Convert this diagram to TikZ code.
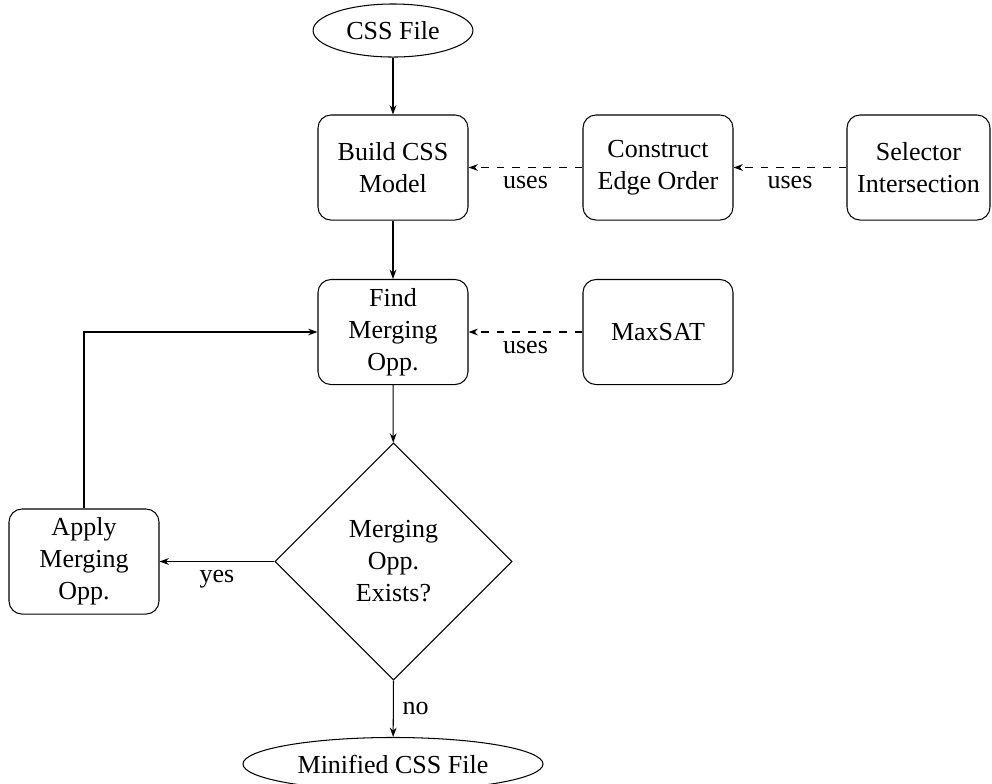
\documentclass[tikz,border=0pt]{standalone}
\usepackage{fontspec}
\setmainfont{Liberation Serif}
\usetikzlibrary{shapes.geometric,arrows.meta}
\begin{document}
\begin{tikzpicture}[x=0.3846pt,y=-0.3846pt,
  font=\fontsize{10}{12.3}\selectfont,
  every node/.style={align=center},
  proc/.style={draw,rounded corners=5pt,minimum width=57.7pt,minimum height=40.4pt,inner sep=2pt},
  term/.style={draw,ellipse,minimum height=20.4pt,inner sep=0pt},
  decide/.style={draw,diamond,minimum width=91.2pt,minimum height=91.2pt,inner sep=0pt},
  flow/.style={-{Stealth[length=3.6pt,width=2.6pt]}},
  usesarrow/.style={dashed,-{Stealth[length=3.6pt,width=2.6pt]}},
  lbl/.style={inner sep=3.33pt}]
\useasboundingbox (0,0) rectangle (992,783);
\node[term,minimum width=61.5pt] (css) at (393,30.5) {CSS File};
\node[proc] (build) at (393,167.5) {Build CSS\\Model};
\node[proc] (cons) at (658,167.5) {Construct\\Edge Order};
\node[proc,minimum width=55pt] (sel) at (918.5,167.5) {Selector\\Intersection};
\node[proc] (find) at (393,332) {Find\\Merging\\Opp.};
\node[proc] (maxsat) at (658,332) {MaxSAT};
\node[decide] (dec) at (393.5,561.5) {Merging\\Opp.\\Exists?};
\node[proc] (apply) at (84,561.5) {Apply\\Merging\\Opp.};
\node[term,minimum width=115.4pt] (min) at (393,764) {Minified CSS File};
\coordinate (corner) at (84,332);

\draw[flow] (css) -- (build);
\draw[flow] (build) -- (find);
\draw[flow] (find) -- (dec);
\draw[usesarrow] (cons) -- node[lbl,below]{uses} (build);
\draw[usesarrow] (sel) -- node[lbl,below]{uses} (cons);
\draw[usesarrow] (maxsat) -- node[lbl,below]{uses} (find);
\draw[flow] (dec.west) -- node[lbl,below]{yes} (apply);
\draw[flow] (apply.north) -- (corner) -- (find.west);
\draw[flow] (dec.south) -- node[lbl,right]{no} (min);
\end{tikzpicture}
\end{document}
